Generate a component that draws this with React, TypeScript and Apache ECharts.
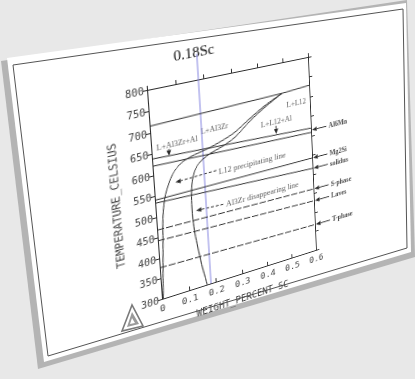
import React, { useEffect, useRef } from "react";
import * as echarts from "echarts";

// ---------- data (weight % Sc, temperature °C) ----------
const liquidus = [[0, 716], [0.49, 724], [0.6, 729]];
const l12Boundary = [
  [0.49, 724], [0.42, 703], [0.36, 680], [0.3, 655], [0.25, 642], [0.2, 632], [0.15, 625],
  [0.115, 618], [0.088, 607], [0.068, 592], [0.052, 572], [0.038, 548], [0.03, 525],
  [0.023, 492], [0.018, 440], [0.014, 400], [0.009, 350], [0.005, 300],
];
const al3zrBoundary = [
  [0.49, 724], [0.42, 699], [0.363, 675], [0.3, 643], [0.25, 628], [0.207, 619], [0.18, 610],
  [0.16, 600], [0.145, 584], [0.135, 562], [0.13, 535], [0.128, 500], [0.129, 470],
  [0.133, 435], [0.14, 400], [0.15, 355], [0.16, 320], [0.166, 300],
];
const al6mnUpper = [[0, 639], [0.6, 620]];
const al6mnLower = [[0, 622], [0.6, 609]];
const mg2siLine = [[0, 541], [0.6, 543]];
const solidusLine = [[0, 534], [0.6, 516]];
const sPhaseLine = [[0, 469], [0.6, 462]];
const lavesLine = [[0, 443], [0.6, 431]];
const tPhaseLine = [[0, 377], [0.6, 368]];
const scLine = [[0.18, 300], [0.18, 860]];

const regionNames = ["L+L12", "L+L12+Al", "L+Al3Zr", "L+Al3Zr+Al"];
const regionPoints = [[0.545, 692], [0.463, 657], [0.227, 675], [0.091, 662]];

const noteNames = ["L12 precipitating line", "Al3Zr disappearing line"];
const notePoints = [[0.228, 571], [0.248, 486]];
// [fromX, fromT, toX, toT, dashed]
const noteArrows = [
  [0.225, 574, 0.075, 571, 1],
  [0.243, 487, 0.142, 490, 1],
  [0.46, 647, 0.46, 627, 0],
  [0.06, 653, 0.06, 637, 0],
];

const phaseNames = ["Al6Mn", "Mg2Si", "solidus", "S-phase", "Laves", "T-phase"];
const phaseTemps = [615, 543, 516, 462, 431, 368];
const phaseArrowFromX = 0.664;
const phaseArrowToX = 0.604;
const phaseLabelX = 0.668;

// ---------- perspective (layout only) ----------
const FL = 72, FT = 50, PW = 170, PH = 215, FW = 330, FH = 315;
const flatPts = [[FL, FT], [FL + PW, FT], [FL + PW, FT + PH], [FL, FT + PH]];
const imgPts = [[147, 90], [308, 57], [316, 250], [162, 299]];

function homography(src: number[][], dst: number[][]) {
  const A: number[][] = [];
  for (let i = 0; i < 4; i++) {
    const [u, v] = src[i];
    const [x, y] = dst[i];
    A.push([u, v, 1, 0, 0, 0, -u * x, -v * x, x]);
    A.push([0, 0, 0, u, v, 1, -u * y, -v * y, y]);
  }
  const n = 8;
  for (let c = 0; c < n; c++) {
    let p = c;
    for (let r = c + 1; r < n; r++) if (Math.abs(A[r][c]) > Math.abs(A[p][c])) p = r;
    [A[c], A[p]] = [A[p], A[c]];
    for (let r = 0; r < n; r++) {
      if (r === c) continue;
      const f = A[r][c] / A[c][c];
      for (let k = c; k <= n; k++) A[r][k] -= f * A[c][k];
    }
  }
  return A.map((row, i) => row[n] / row[i]);
}
function applyH(h: number[], p: number[]) {
  const w = h[6] * p[0] + h[7] * p[1] + 1;
  return [(h[0] * p[0] + h[1] * p[1] + h[2]) / w, (h[3] * p[0] + h[4] * p[1] + h[5]) / w];
}
const H = homography(flatPts, imgPts);
const HI = homography(imgPts, flatPts);
const MATRIX = `matrix3d(${H[0]},${H[3]},0,${H[6]},${H[1]},${H[4]},0,${H[7]},0,0,1,0,${H[2]},${H[5]},0,1)`;
const titlePos = applyH(HI, [194, 52]);

const INK = "#2b2b2b";
const TXT = "#444";
const MONO = "DejaVu Sans Mono";
const SERIF = "Liberation Serif";

function lineSeries(name: string, data: number[][], dashed = false, color = INK) {
  return {
    type: "line", name, data, symbol: "none", clip: false, silent: true, smooth: false,
    lineStyle: { color, width: 1, type: dashed ? [7, 2] : "solid" },
  };
}
function curveSeries(name: string, data: number[][]) {
  return { ...lineSeries(name, data), smooth: 0.3 };
}

function arrowRender(params: any, api: any) {
  const p1 = api.coord([api.value(0), api.value(1)]);
  const p2 = api.coord([api.value(2), api.value(3)]);
  const dashed = api.value(4) === 1;
  const dx = p2[0] - p1[0], dy = p2[1] - p1[1];
  const len = Math.sqrt(dx * dx + dy * dy) || 1;
  const ux = dx / len, uy = dy / len;
  const hl = 5.5, hw = 2.4;
  const base = [p2[0] - ux * hl, p2[1] - uy * hl];
  return {
    type: "group",
    children: [
      {
        type: "line",
        shape: { x1: p1[0], y1: p1[1], x2: base[0], y2: base[1] },
        style: { stroke: INK, lineWidth: 1, lineDash: dashed ? [3, 2] : null },
      },
      {
        type: "polygon",
        shape: { points: [p2, [base[0] - uy * hw, base[1] + ux * hw], [base[0] + uy * hw, base[1] - ux * hw]] },
        style: { fill: INK },
      },
    ],
  };
}

export default function App() {
  const bgRef = useRef<HTMLDivElement>(null);
  const plotRef = useRef<HTMLDivElement>(null);

  useEffect(() => {
    const bg = echarts.init(bgRef.current!, null, { renderer: "svg", width: 415, height: 379 });
    bg.setOption({
      animation: false,
      graphic: [
        { type: "polygon", shape: { points: [[1, 61], [407, 0], [415, 257], [38, 369]] }, style: { fill: "#b4b4b4" } },
        { type: "polygon", shape: { points: [[7, 58], [406, 3], [411, 252], [44, 362]] }, style: { fill: "#ffffff" } },
        { type: "polygon", shape: { points: [[13, 65], [403, 9], [407, 248], [48, 356]] }, style: { fill: "none", stroke: "#555", lineWidth: 1 } },
        { type: "polygon", shape: { points: [[132, 305], [122, 331], [143, 326]] }, style: { fill: "none", stroke: "#7a7a7a", lineWidth: 1.6 } },
        { type: "polygon", shape: { points: [[132, 312], [127, 327], [139, 324]] }, style: { fill: "#9a9a9a" } },
        { type: "polygon", shape: { points: [[132, 318], [130, 324], [135, 323]] }, style: { fill: "#ffffff" } },
      ],
    });

    const chart = echarts.init(plotRef.current!, null, { renderer: "svg", width: FW, height: FH });
    const axisLine = { show: true, onZero: false, lineStyle: { color: INK, width: 1 } };
    const arrowData = [
      ...noteArrows,
      ...phaseTemps.map((t) => [phaseArrowFromX, t, phaseArrowToX, t, 0]),
    ];
    const series: any[] = [
      lineSeries("Sc", scLine, false, "#8585e0"),
      lineSeries("liquidus", liquidus),
      curveSeries("L12", l12Boundary),
      curveSeries("Al3Zr", al3zrBoundary),
      lineSeries("Al6Mn-1", al6mnUpper),
      lineSeries("Al6Mn-2", al6mnLower),
      lineSeries("Mg2Si", mg2siLine),
      lineSeries("solidus", solidusLine),
      lineSeries("S-phase", sPhaseLine, true),
      lineSeries("Laves", lavesLine, true),
      lineSeries("T-phase", tPhaseLine, true),
      {
        type: "custom", silent: true, clip: false, renderItem: arrowRender,
        encode: { x: [0, 2], y: [1, 3] }, data: arrowData,
      },
      {
        type: "scatter", clip: false, silent: true, symbolSize: 1, itemStyle: { color: "transparent" },
        data: regionNames.map((n, i) => ({ name: n, value: regionPoints[i] })),
        label: { show: true, position: "inside", formatter: "{b}", fontFamily: SERIF, fontSize: 8, color: "#333" },
      },
      {
        type: "scatter", clip: false, silent: true, symbolSize: 1, itemStyle: { color: "transparent" },
        data: noteNames.map((n, i) => ({ name: n, value: notePoints[i] })),
        label: { show: true, position: "right", distance: 1, formatter: "{b}", fontFamily: SERIF, fontSize: 8.5, color: "#333" },
      },
      {
        type: "scatter", clip: false, silent: true, symbolSize: 1, itemStyle: { color: "transparent" },
        data: phaseNames.map((n, i) => ({ name: n, value: [phaseLabelX, phaseTemps[i]] })),
        label: { show: true, position: "right", distance: 1, formatter: "{b}", fontFamily: SERIF, fontSize: 7.5, fontWeight: "bold", color: "#222" },
      },
    ];

    chart.setOption({
      animation: false,
      grid: { left: FL, top: FT, width: PW, height: PH, containLabel: false },
      graphic: [
        {
          type: "text", x: titlePos[0], y: titlePos[1],
          style: { text: "0.18Sc", fontFamily: SERIF, fontSize: 15, fill: "#111", align: "center", verticalAlign: "middle" },
        },
      ],
      xAxis: [
        {
          type: "value", min: 0, max: 0.6, interval: 0.1, position: "bottom",
          axisLine, splitLine: { show: false },
          axisTick: { show: true, inside: true, length: 4, lineStyle: { color: INK } },
          axisLabel: {
            fontFamily: MONO, fontSize: 9.5, color: TXT, margin: 5,
            formatter: (v: number) => (v === 0 ? "0" : v.toFixed(1)),
          },
          name: "WEIGHT_PERCENT SC", nameLocation: "middle", nameGap: 22,
          nameTextStyle: { fontFamily: MONO, fontSize: 10, color: TXT },
        },
        {
          type: "value", min: 0, max: 0.6, interval: 0.1, position: "top",
          axisLine, splitLine: { show: false }, axisLabel: { show: false },
          axisTick: { show: true, inside: false, length: 4, lineStyle: { color: INK } },
        },
      ],
      yAxis: [
        {
          type: "value", min: 300, max: 800, interval: 50, position: "left",
          axisLine, splitLine: { show: false },
          axisTick: { show: true, inside: false, length: 4, lineStyle: { color: INK } },
          axisLabel: { fontFamily: MONO, fontSize: 10, color: TXT, margin: 3 },
          name: "TEMPERATURE_CELSIUS", nameLocation: "middle", nameGap: 26, nameRotate: 90,
          nameTextStyle: { fontFamily: MONO, fontSize: 11, color: TXT },
        },
        {
          type: "value", min: 300, max: 800, interval: 50, position: "right",
          axisLine, splitLine: { show: false }, axisLabel: { show: false },
          axisTick: { show: true, inside: false, length: 4, lineStyle: { color: INK } },
        },
      ],
      series,
    });

    return () => {
      bg.dispose();
      chart.dispose();
    };
  }, []);

  return (
    <div style={{ position: "fixed", left: 0, top: 0, width: 415, height: 379, overflow: "hidden", background: "#e8e8e8" }}>
      <div ref={bgRef} style={{ position: "absolute", left: 0, top: 0, width: 415, height: 379 }} />
      <div
        ref={plotRef}
        style={{ position: "absolute", left: 0, top: 0, width: FW, height: FH, transformOrigin: "0 0", transform: MATRIX }}
      />
    </div>
  );
}
